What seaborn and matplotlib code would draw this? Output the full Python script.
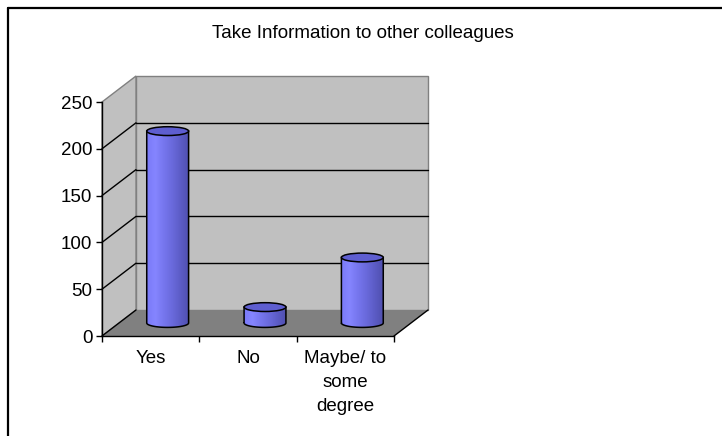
import numpy as np
import matplotlib
matplotlib.use("Agg")
import matplotlib.pyplot as plt
import matplotlib.transforms as mtransforms
from matplotlib.patches import Polygon, PathPatch, Ellipse
from matplotlib.path import Path
from matplotlib.lines import Line2D
from matplotlib.colors import LinearSegmentedColormap
import seaborn as sns

# Survey answers
categories = ["Yes", "No", "Maybe/ to\nsome\ndegree"]
values = [205, 17, 70]
yticks = [0, 50, 100, 150, 200, 250]
title = "Take Information to other colleagues"

sns.set_style("white")
plt.rcParams["font.family"] = ["Liberation Sans", "DejaVu Sans"]
plt.rcParams["text.color"] = "black"
plt.rcParams["xtick.color"] = "black"
plt.rcParams["ytick.color"] = "black"
plt.rcParams["xtick.labelcolor"] = "black"
plt.rcParams["ytick.labelcolor"] = "black"
FS = 13.5

W, H, DPI = 722, 436, 100
fig = plt.figure(figsize=(W / DPI, H / DPI), dpi=DPI)
fig.patch.set_facecolor("white")

# front plane of the 3-D box
ax = fig.add_axes([102 / W, (H - 336) / H, (394 - 102) / W, (336 - 102) / H])
ax.set_facecolor("none")

sns.barplot(x=list(range(len(categories))), y=values, width=0.43,
            color="#6E6EE8", ax=ax, saturation=1, zorder=4)
ax.set_xlim(-0.5, 2.5)
ax.set_ylim(0, 250)

# depth offsets (back wall and mid-depth where the cylinders stand)
DX, DY = 0.34, 0.26
back = ax.transData + mtransforms.ScaledTranslation(DX, DY, fig.dpi_scale_trans)
mid = ax.transData + mtransforms.ScaledTranslation(DX / 2, DY / 2, fig.dpi_scale_trans)


def disp(x, y, tr):
    return tr.transform((x, y))


x0, x1 = ax.get_xlim()
ymax = 250
wall_c, floor_c = "#C0C0C0", "#808080"
ident = mtransforms.IdentityTransform()

# back wall
ax.add_patch(Polygon([(x0, 0), (x1, 0), (x1, ymax), (x0, ymax)], closed=True,
                     transform=back, facecolor=wall_c, edgecolor="#808080",
                     lw=1, clip_on=False, zorder=0))
# side wall
side = [disp(x0, 0, ax.transData), disp(x0, ymax, ax.transData),
        disp(x0, ymax, back), disp(x0, 0, back)]
ax.add_patch(Polygon(side, closed=True, transform=ident, facecolor=wall_c,
                     edgecolor="#808080", lw=1, clip_on=False, zorder=0))
# floor
floor = [disp(x0, 0, ax.transData), disp(x1, 0, ax.transData),
         disp(x1, 0, back), disp(x0, 0, back)]
ax.add_patch(Polygon(floor, closed=True, transform=ident, facecolor=floor_c,
                     edgecolor="none", clip_on=False, zorder=1))

# gridlines: back wall + side wall
for v in yticks[1:-1]:
    ax.add_line(Line2D([x0, x1], [v, v], transform=back, color="black",
                       lw=1, clip_on=False, zorder=2))
for v in yticks[:-1]:
    p, q = disp(x0, v, ax.transData), disp(x0, v, back)
    ax.add_line(Line2D([p[0], q[0]], [p[1], q[1]], transform=ident,
                       color="black", lw=1, clip_on=False, zorder=2))
p, q = disp(x1, 0, ax.transData), disp(x1, 0, back)
ax.add_line(Line2D([p[0], q[0]], [p[1], q[1]], transform=ident,
                   color="black", lw=1, clip_on=False, zorder=2))

# cylinders built on the seaborn bars
cmap = LinearSegmentedColormap.from_list(
    "cyl", ["#7A7AF8", "#8585FF", "#7676EE", "#6A6ADC", "#5C5CC6", "#5050B0"])
grad = np.linspace(0, 1, 256)[None, :]
ry = 4.4 * 250 / 234  # half-height of the elliptical caps
t = np.linspace(np.pi, 2 * np.pi, 60)
for bar in ax.patches[:len(values)]:
    bx, bw, bh = bar.get_x(), bar.get_width(), bar.get_height()
    xc = bx + bw / 2
    bar.set_transform(mid)
    bar.set_edgecolor("none")
    verts = [(bx, bh), (bx, 0)]
    verts += list(zip(xc + bw / 2 * np.cos(t), ry * np.sin(t)))
    verts += [(bx + bw, 0), (bx + bw, bh), (bx, bh)]
    body = PathPatch(Path(verts, closed=True), transform=mid,
                     facecolor="none", edgecolor="black", lw=1.1, zorder=6)
    im = ax.imshow(grad, cmap=cmap, aspect="auto",
                   extent=[bx, bx + bw, -ry, bh], transform=mid, zorder=5)
    im.set_clip_path(body)
    ax.add_patch(body)
    ax.add_patch(Ellipse((xc, bh), bw, 2 * ry, transform=mid,
                         facecolor="#5E5ED0", edgecolor="black", lw=1.1,
                         zorder=7))

ax.set_xlim(-0.5, 2.5)
ax.set_ylim(0, 250)

# axes
for s in ["top", "right"]:
    ax.spines[s].set_visible(False)
for s in ["left", "bottom"]:
    ax.spines[s].set_color("black")
    ax.spines[s].set_linewidth(1)
    ax.spines[s].set_zorder(8)
ax.set_yticks(yticks)
ax.set_yticklabels([str(v) for v in yticks], fontsize=FS, color="black")
ax.set_xticks([-0.5, 0.5, 1.5, 2.5])
ax.set_xticklabels([])
ax.set_xticks(range(len(categories)), minor=True)
ax.set_xticklabels(categories, minor=True, fontsize=FS, linespacing=1.55,
                   va="top", color="black")
ax.tick_params(axis="both", which="major", direction="out", length=4,
               width=1, color="black", left=True, bottom=True)
ax.tick_params(axis="x", which="minor", length=0, pad=10)
ax.tick_params(axis="y", pad=3)
ax.set_xlabel("")
ax.set_ylabel("")

fig.text(363 / W, 1 - 34 / H, title, ha="center", va="center", fontsize=FS,
         color="black")

# chart frame
fig.add_artist(Line2D([7.5 / W, 7.5 / W], [0, 1 - 8 / H], color="black",
                      lw=1.6, transform=fig.transFigure))
fig.add_artist(Line2D([7.5 / W, 1], [1 - 8 / H, 1 - 8 / H], color="black",
                      lw=1.6, transform=fig.transFigure))

fig.savefig("out.png", dpi=DPI, facecolor="white")
